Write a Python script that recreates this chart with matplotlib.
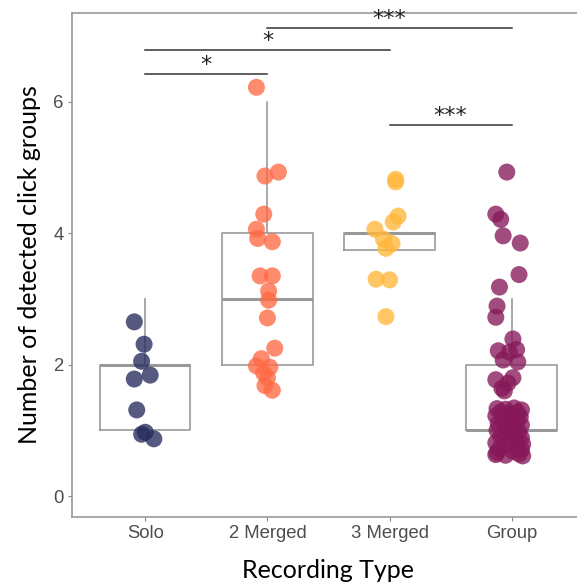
#!/usr/bin/env python3

import matplotlib
matplotlib.use("Agg")
import matplotlib.pyplot as plt


CATEGORIES = ["Solo", "2 Merged", "3 Merged", "Group"]
COLORS = ["#262c5c", "#ff6a45", "#ffb73a", "#87195a"]

# box stats: (q1, median, q3, whisker low, whisker high)
BOX_Q1 = [1, 2, 3.75, 1]
BOX_MED = [2, 3, 4, 1]
BOX_Q3 = [2, 4, 4, 2]
BOX_LO = [1, 2, 3.75, 1]
BOX_HI = [3, 6, 4, 3]

# jittered points: values and horizontal offsets
SOLO_Y = [2.65, 2.31, 2.05, 1.84, 1.78, 1.31, 0.97, 0.94, 0.87]
SOLO_DX = [-0.09, -0.01, -0.03, 0.04, -0.09, -0.07, 0.0, -0.03, 0.07]

MERGED2_Y = [6.22, 4.93, 4.87, 4.29, 4.06, 3.92, 3.87, 3.35, 3.35, 3.12,
             2.98, 2.71, 2.25, 2.09, 1.98, 1.96, 1.87, 1.80, 1.68, 1.61]
MERGED2_DX = [-0.09, 0.09, -0.02, -0.03, -0.09, -0.08, 0.04, -0.06, 0.04, 0.01,
              0.01, 0.0, 0.06, -0.05, -0.09, 0.02, -0.03, 0.0, -0.02, 0.04]

MERGED3_Y = [4.82, 4.78, 4.26, 4.17, 4.06, 3.91, 3.84, 3.77, 3.30, 3.29, 2.73]
MERGED3_DX = [0.05, 0.05, 0.07, 0.03, -0.12, -0.05, 0.02, -0.03, -0.11, 0.0, -0.03]

GROUP_Y = [4.93, 4.29, 4.21, 3.96, 3.85, 3.37, 3.18, 2.89, 2.72, 2.39,
           2.21, 2.23, 2.19, 2.07, 2.04, 1.77, 1.80, 1.64, 1.72, 1.60,
           1.33, 1.32, 1.34, 1.31, 1.28, 1.27, 1.25, 1.22, 1.20, 1.18,
           1.15, 1.13, 1.10, 1.08, 1.05, 1.03, 1.00, 0.98, 0.96, 0.94,
           0.91, 0.89, 0.86, 0.84, 0.81, 0.79, 0.76, 0.74, 0.72, 0.70,
           0.68, 0.66, 0.64, 0.62, 0.61, 0.63]
GROUP_DX = [-0.04, -0.13, -0.09, -0.07, 0.07, 0.06, -0.10, -0.12, -0.13, 0.01,
            -0.11, 0.04, -0.02, -0.07, 0.05, -0.13, 0.01, -0.08, -0.03, -0.06,
            -0.12, -0.05, 0.02, 0.08, -0.09, 0.05, -0.02, -0.13, 0.07, 0.0,
            -0.07, 0.04, -0.11, 0.08, -0.03, 0.03, -0.12, 0.06, -0.06, 0.01,
            -0.09, 0.08, -0.02, 0.04, -0.13, 0.09, -0.06, 0.05, -0.10, 0.08,
            0.01, -0.12, 0.06, -0.05, 0.09, -0.13]

POINTS_Y = [SOLO_Y, MERGED2_Y, MERGED3_Y, GROUP_Y]
POINTS_DX = [SOLO_DX, MERGED2_DX, MERGED3_DX, GROUP_DX]

# significance brackets: (start category, end category, height, label)
SIG_START = [1, 1, 2, 3]
SIG_END = [2, 3, 4, 4]
SIG_Y = [6.42, 6.79, 7.12, 5.65]
SIG_LABEL = ["*", "*", "***", "***"]


def main():
    fig = plt.figure(figsize=(5.77, 5.86), dpi=100)
    ax = fig.add_axes([0.1248, 0.1177, 0.889, 0.860])

    stats = []
    for i in range(len(CATEGORIES)):
        stats.append({"q1": BOX_Q1[i], "med": BOX_MED[i], "q3": BOX_Q3[i],
                      "whislo": BOX_LO[i], "whishi": BOX_HI[i], "fliers": []})
    ax.bxp(stats, positions=[1, 2, 3, 4], widths=0.74, showcaps=False,
           boxprops=dict(color="#999999", linewidth=1.2),
           whiskerprops=dict(color="#999999", linewidth=1.2),
           medianprops=dict(color="#999999", linewidth=2.2),
           zorder=1)

    for i, (ys, dxs) in enumerate(zip(POINTS_Y, POINTS_DX)):
        xs = [i + 1 + dx for dx in dxs]
        ax.scatter(xs, ys, s=150, color=COLORS[i], alpha=0.78,
                   edgecolors="none", zorder=3)

    for x0, x1, y, lab in zip(SIG_START, SIG_END, SIG_Y, SIG_LABEL):
        ax.plot([x0, x1], [y, y], color="#333333", linewidth=1.1, zorder=2)
        ax.text((x0 + x1) / 2, y - 0.02, lab, ha="center", va="bottom",
                fontsize=16, color="#222222", family="DejaVu Sans")

    ax.set_xlim(0.4, 4.6)
    ax.set_ylim(-0.32, 7.35)
    ax.set_xticks([1, 2, 3, 4])
    ax.set_xticklabels(CATEGORIES)
    ax.set_yticks([0, 2, 4, 6])
    for lab in ax.get_xticklabels() + ax.get_yticklabels():
        lab.set_family("Liberation Sans")
        lab.set_fontsize(13.3)
        lab.set_color("#4d4d4d")
    ax.tick_params(axis="both", length=3, width=0.8, color="#888888", pad=3)

    for side in ["left", "bottom", "top"]:
        ax.spines[side].set_color("#999999")
        ax.spines[side].set_linewidth(1.2)
    ax.spines["right"].set_visible(False)

    ax.set_xlabel("Recording Type", fontsize=18, family="Lato", labelpad=12)
    ax.set_ylabel("Number of detected click groups", fontsize=18, family="Lato",
                  labelpad=9)

    fig.savefig("out.png", dpi=100)
    plt.close(fig)


if __name__ == "__main__":
    main()
